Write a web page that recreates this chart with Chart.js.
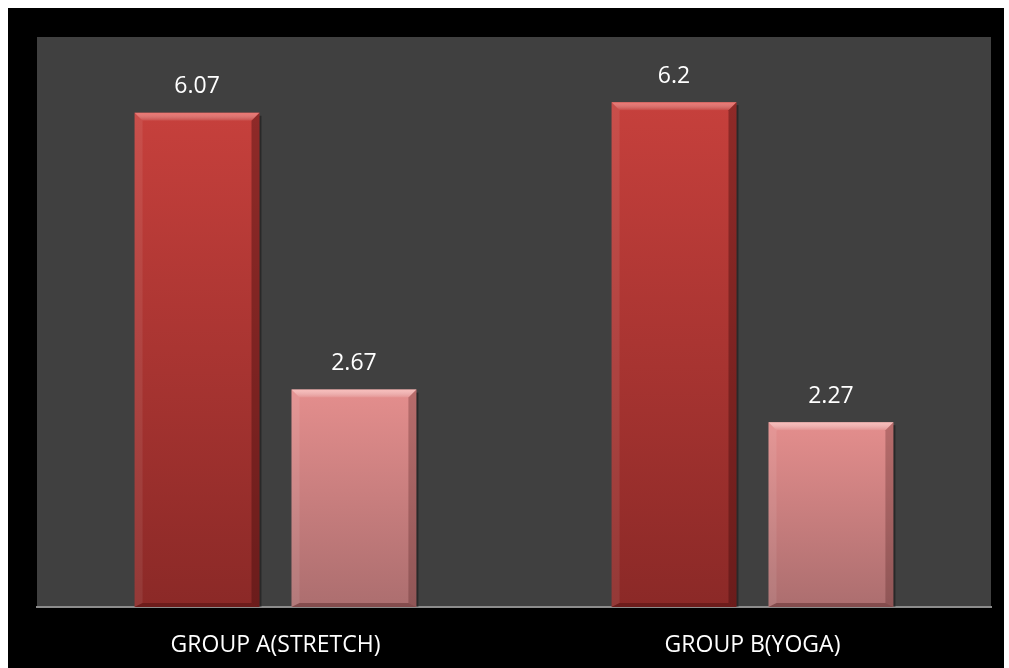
<!DOCTYPE html>
<html>
<head>
<meta charset="utf-8">
<script src="https://cdn.jsdelivr.net/npm/chart.js@4"></script>
<style>
html,body{margin:0;padding:0;background:#fff;}
#wrap{position:absolute;left:0;top:0;width:1009px;height:668px;}
</style>
</head>
<body>
<div id="wrap"><canvas id="c" width="1009" height="668"></canvas></div>
<script>
const categories = ["GROUP A(STRETCH)", "GROUP B(YOGA)"];
const preValues = [6.07, 6.2];
const postValues = [2.67, 2.27];
const seriesNames = ["Pre", "Post"];
const yMax = 7;

const palette = [
  {top:"#c6403c", bottom:"#8b2927", light:"rgba(255,140,135,0.7)", dark:"rgba(60,10,10,0.4)"},
  {top:"#e48e8d", bottom:"#ac6e6f", light:"rgba(255,205,202,0.75)", dark:"rgba(80,30,30,0.3)"}
];

function grad(ctx, i){
  const chart = ctx.chart;
  const a = chart.chartArea;
  if(!a || ctx.type !== 'data') return palette[i].top;
  const ys = chart.scales.y;
  const top = ys.getPixelForValue(ctx.raw);
  const base = ys.getPixelForValue(0);
  const g = chart.ctx.createLinearGradient(0, top, 0, base);
  g.addColorStop(0, palette[i].top);
  g.addColorStop(1, palette[i].bottom);
  return g;
}

const bgPlugin = {
  id:'bg',
  beforeDraw(chart){
    const c = chart.ctx, a = chart.chartArea;
    c.save();
    c.fillStyle = '#ffffff';
    c.fillRect(0,0,chart.width,chart.height);
    c.fillStyle = '#000000';
    c.fillRect(8,8,996,chart.height-8);
    c.fillStyle = '#404040';
    c.fillRect(a.left,a.top,a.right-a.left,a.bottom-a.top);
    c.restore();
  }
};

const bevelPlugin = {
  id:'bevel',
  afterDatasetsDraw(chart){
    const c = chart.ctx;
    chart.data.datasets.forEach((ds, di) => {
      const meta = chart.getDatasetMeta(di);
      meta.data.forEach(el => {
        const p = el.getProps(['x','y','width','base'], true);
        const l = p.x - p.width/2, r = p.x + p.width/2, t = p.y, b = p.base;
        const d = 8;
        c.save();
        // top bevel highlight with gradient
        const tg = c.createLinearGradient(0, t, 0, t+d);
        tg.addColorStop(0, palette[di].light);
        tg.addColorStop(1, 'rgba(255,255,255,0.05)');
        c.fillStyle = tg;
        c.beginPath();
        c.moveTo(l,t); c.lineTo(r,t); c.lineTo(r-d,t+d); c.lineTo(l+d,t+d); c.closePath();
        c.fill();
        // left bevel
        c.fillStyle = 'rgba(255,255,255,0.08)';
        c.beginPath();
        c.moveTo(l,t); c.lineTo(l+d,t+d); c.lineTo(l+d,b-4); c.lineTo(l,b); c.closePath();
        c.fill();
        // right bevel
        c.fillStyle = palette[di].dark;
        c.beginPath();
        c.moveTo(r,t); c.lineTo(r-d,t+d); c.lineTo(r-d,b-4); c.lineTo(r,b); c.closePath();
        c.fill();
        // bottom bevel
        c.fillStyle = 'rgba(40,0,0,0.3)';
        c.beginPath();
        c.moveTo(l,b); c.lineTo(l+d,b-4); c.lineTo(r-d,b-4); c.lineTo(r,b); c.closePath();
        c.fill();
        // right edge shadow
        c.fillStyle = 'rgba(0,0,0,0.35)';
        c.fillRect(r, t+3, 2, b-t-3);
        c.restore();
      });
    });
  }
};

const labelPlugin = {
  id:'vlabels',
  afterDatasetsDraw(chart){
    const c = chart.ctx;
    c.save();
    c.fillStyle = '#ffffff';
    c.font = '23px "Open Sans", sans-serif';
    c.textAlign = 'center';
    c.textBaseline = 'middle';
    chart.data.datasets.forEach((ds, di) => {
      const meta = chart.getDatasetMeta(di);
      meta.data.forEach((el, i) => {
        c.fillText(String(ds.data[i]), el.x, el.y - 26);
      });
    });
    c.restore();
  }
};

new Chart(document.getElementById('c'), {
  type:'bar',
  data:{
    labels: categories,
    datasets:[
      {label: seriesNames[0], data: preValues, backgroundColor: ctx => grad(ctx,0), borderWidth:0},
      {label: seriesNames[1], data: postValues, backgroundColor: ctx => grad(ctx,1), borderWidth:0}
    ]
  },
  options:{
    responsive:false,
    animation:false,
    layout:{padding:{left:37, right:18, top:37, bottom:0}},
    datasets:{bar:{categoryPercentage:0.658, barPercentage:0.796}},
    plugins:{legend:{display:false}, tooltip:{enabled:false}, title:{display:false}},
    scales:{
      x:{
        grid:{display:false},
        border:{display:true, color:'#8c8c8c', width:2},
        ticks:{color:'#ffffff', font:{family:'"Open Sans", sans-serif', size:23}, padding:17, maxRotation:0},
        afterFit(s){ s.height = 61; }
      },
      y:{
        display:false,
        min:0, max:yMax,
        grid:{display:false}
      }
    }
  },
  plugins:[bgPlugin, bevelPlugin, labelPlugin]
});
</script>
</body>
</html>
